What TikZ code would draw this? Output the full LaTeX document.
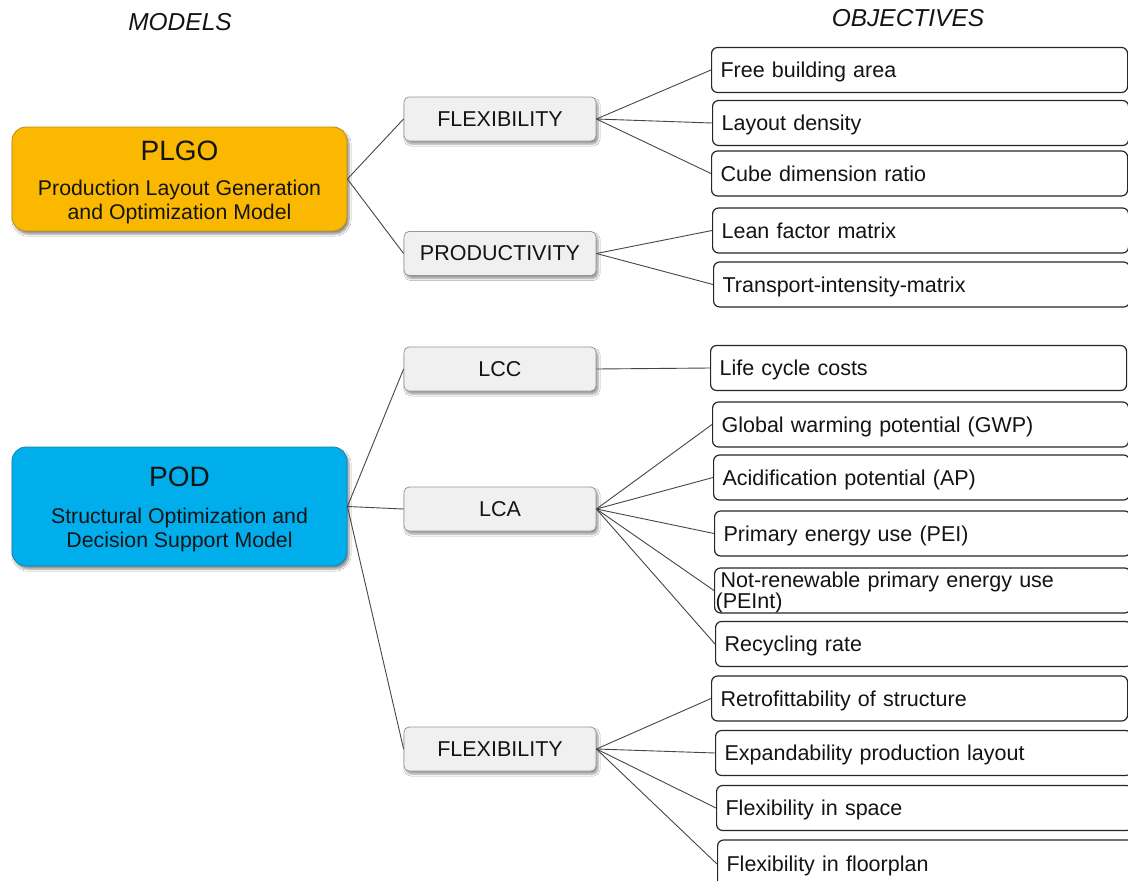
\documentclass[tikz,border=0pt]{standalone}
\usepackage{fontspec}
\setmainfont{Liberation Sans}
\usetikzlibrary{shadows.blur}
\definecolor{plgoC}{RGB}{250,184,0}
\definecolor{plgoB}{RGB}{190,140,20}
\definecolor{podC}{RGB}{0,174,236}
\definecolor{podB}{RGB}{20,130,180}
\definecolor{midC}{RGB}{240,240,240}
\definecolor{midB}{RGB}{150,150,150}
\definecolor{lineC}{RGB}{70,70,70}
\definecolor{txt}{RGB}{20,20,20}
\tikzset{
  model/.style={draw=#1, line width=0.8pt, rounded corners=14pt, minimum width=335pt, minimum height=104pt,
    blur shadow={shadow xshift=2pt, shadow yshift=-3pt, shadow blur steps=6, shadow opacity=45}},
  crit/.style={draw=midB, fill=midC, line width=0.8pt, rounded corners=5pt, minimum width=192pt, minimum height=44pt,
    font=\fontsize{21.5}{24}\selectfont, text=txt,
    blur shadow={shadow xshift=2pt, shadow yshift=-3pt, shadow blur steps=5, shadow opacity=40}},
  obj/.style={draw=black!85, line width=1.2pt, rounded corners=6pt, anchor=west, minimum height=45pt,
    text width=398pt, inner xsep=9pt, align=left, font=\fontsize{21.5}{24}\selectfont, text=txt,
    text height=15pt, text depth=0pt},
  link/.style={draw=lineC, line width=0.9pt},
  head/.style={font=\fontsize{24.5}{26}\selectfont\itshape, text=txt},
  title/.style={font=\fontsize{28}{30}\selectfont, text=txt},
  subtitle/.style={font=\fontsize{21.3}{24}\selectfont, text=txt, align=center},
}
\begin{document}
\begin{tikzpicture}[x=1pt, y=-1pt]
\useasboundingbox (0,0) rectangle (1128,881);
\clip (0,0) rectangle (1128,881);
\fill[white] (0,0) rectangle (1128,881);

% column headings
\node[head] (hm) at (180,22) {MODELS};
\node[head] (ho) at (908,18) {OBJECTIVES};

% models
\node[model=plgoB, fill=plgoC] (plgo) at (179.5,179) {};
\node[title] (plgoT) at (179.5,151) {PLGO};
\node[subtitle] (plgoS) at (179.5,202) {Production Layout Generation\\and Optimization Model};

\node[model=podB, fill=podC, minimum height=119pt] (pod) at (179.5,506.5) {};
\node[title] (podT) at (179.5,477) {POD};
\node[subtitle] (podS) at (179.5,530) {Structural Optimization and\\Decision Support Model};

% criteria
\node[crit] (flexA) at (500,119) {FLEXIBILITY};
\node[crit] (prod) at (500,253.5) {PRODUCTIVITY};
\node[crit] (lcc) at (500,369) {LCC};
\node[crit] (lca) at (500,509) {LCA};
\node[crit] (flexB) at (500,749) {FLEXIBILITY};

% objectives
\node[obj] (o1) at (711,70) {Free building area};
\node[obj] (o2) at (712,123) {Layout density};
\node[obj] (o3) at (711,173.5) {Cube dimension ratio};
\node[obj] (o4) at (712,230.5) {Lean factor matrix};
\node[obj] (o5) at (713,284.5) {Transport-intensity-matrix};
\node[obj] (o6) at (710,368) {Life cycle costs};
\node[obj] (o7) at (712,424.5) {Global warming potential (GWP)};
\node[obj] (o8) at (713,477.5) {Acidification potential (AP)};
\node[obj] (o9) at (714,533.5) {Primary energy use (PEI)};
\node[obj, inner xsep=1pt, text width=414pt, inner ysep=0pt, text height=15pt, text depth=21pt,
      font=\fontsize{21.5}{20}\selectfont] (o10) at (714,590.5) {\hspace*{5pt}Not-renewable primary energy use\\(PEInt)};
\node[obj] (o11) at (715,644) {Recycling rate};
\node[obj] (o12) at (711,698.5) {Retrofittability of structure};
\node[obj] (o13) at (715,753) {Expandability production layout};
\node[obj] (o14) at (716,808) {Flexibility in space};
\node[obj, minimum height=48pt] (o15) at (717,864) {Flexibility in floorplan};

% connectors
\draw[link] (plgo.east) -- (flexA.west);
\draw[link] (plgo.east) -- (prod.west);
\draw[link] (pod.east) -- (lcc.west);
\draw[link] (pod.east) -- (lca.west);
\draw[link] (pod.east) -- (flexB.west);
\foreach \o in {o1,o2,o3} \draw[link] (flexA.east) -- (\o.west);
\foreach \o in {o4,o5} \draw[link] (prod.east) -- (\o.west);
\draw[link] (lcc.east) -- (o6.west);
\foreach \o in {o7,o8,o9,o10,o11} \draw[link] (lca.east) -- (\o.west);
\foreach \o in {o12,o13,o14,o15} \draw[link] (flexB.east) -- (\o.west);
\end{tikzpicture}
\end{document}
